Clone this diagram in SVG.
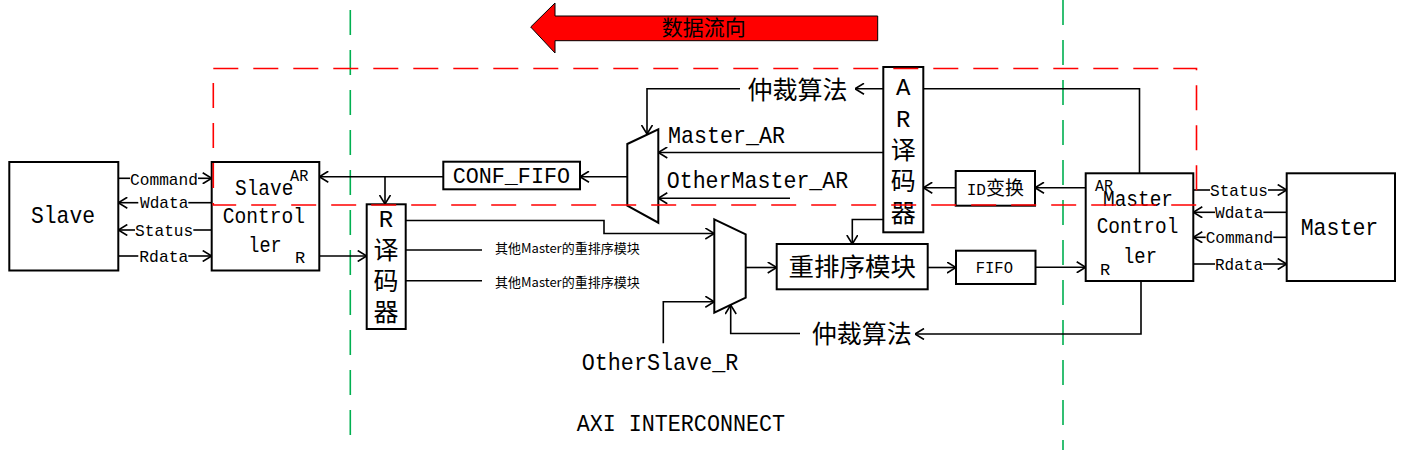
<svg xmlns="http://www.w3.org/2000/svg" width="1405" height="450" viewBox="0 0 1405 450">
<style>
.box{fill:#fff;stroke:#000;stroke-width:2}
.ln{fill:none;stroke:#000;stroke-width:1.6}
.arr{fill:none;stroke:#000;stroke-width:1.6;marker-end:url(#ah)}
.m{font-family:"Liberation Mono","DejaVu Sans Mono",monospace;fill:#000}
.cjk{font-family:"Noto Sans CJK SC","Noto Sans",sans-serif;fill:#000}
.big{font-size:24px}
.mid{font-size:22px}
.sig{font-size:17px}
.sm{font-size:17px}
.grn{stroke:#00B050;stroke-width:1.6;stroke-dasharray:25 15;fill:none}
.red{stroke:#FF0000;stroke-width:1.6;stroke-dasharray:25 15;fill:none}
</style>
<defs>
<marker id="ah" viewBox="0 0 10 12" refX="9.5" refY="6" markerWidth="10" markerHeight="12" markerUnits="userSpaceOnUse" orient="auto">
<path d="M0.5,0.5 L9.5,6 L0.5,11.5" fill="none" stroke="#000" stroke-width="1.6"/>
</marker>
</defs>
<rect width="1405" height="450" fill="#fff"/>

<g id="boundaries">
<line class="grn" x1="350.3" y1="10" x2="350.3" y2="450"/>
<line class="grn" x1="1063" y1="0" x2="1063" y2="450"/>
</g>

<g id="dataflow">
<polygon points="530.7,27 555,3 555,16 877.7,16 877.7,40.7 555,40.7 555,53" fill="#FF0000" stroke="#000" stroke-width="1"/>
<text class="cjk" x="703.7" y="34.7" font-size="21" text-anchor="middle">数据流向</text>
</g>

<g id="connectors">
<!-- left signals -->
<line class="ln" x1="118.3" y1="178.3" x2="130" y2="178.3"/>
<line class="arr" x1="198" y1="178.3" x2="211.7" y2="178.3"/>
<line class="arr" x1="138.3" y1="202.7" x2="118.3" y2="202.7"/>
<line class="ln" x1="188.3" y1="202.7" x2="211.7" y2="202.7"/>
<line class="arr" x1="135" y1="230" x2="118.3" y2="230"/>
<line class="ln" x1="193.3" y1="230" x2="211.7" y2="230"/>
<line class="ln" x1="118.3" y1="256" x2="138.3" y2="256"/>
<line class="arr" x1="188.3" y1="256" x2="211.7" y2="256"/>
<!-- right signals -->
<line class="ln" x1="1193.3" y1="190" x2="1210" y2="190"/>
<line class="arr" x1="1268" y1="190" x2="1286.7" y2="190"/>
<line class="ln" x1="1286.7" y1="212.3" x2="1263.3" y2="212.3"/>
<line class="arr" x1="1215" y1="212.3" x2="1193.3" y2="212.3"/>
<line class="ln" x1="1286.7" y1="237.3" x2="1273.3" y2="237.3"/>
<line class="arr" x1="1205.7" y1="237.3" x2="1193.3" y2="237.3"/>
<line class="ln" x1="1193.3" y1="264" x2="1215" y2="264"/>
<line class="arr" x1="1263" y1="264" x2="1286.7" y2="264"/>
<!-- AR path -->
<line class="arr" x1="443.3" y1="176.7" x2="319.3" y2="176.7"/>
<line class="arr" x1="385" y1="176.7" x2="385" y2="204"/>
<line class="arr" x1="627.3" y1="176.7" x2="580" y2="176.7"/>
<line class="arr" x1="883.3" y1="152.5" x2="658.3" y2="152.5"/>
<line class="arr" x1="790" y1="198.3" x2="658.3" y2="198.3"/>
<path class="arr" d="M1139.5,173.3 V88.8 H855"/>
<path class="arr" d="M740,88.8 H647 V134"/>
<line class="arr" x1="1085.7" y1="187.7" x2="1035" y2="187.7"/>
<line class="arr" x1="955.7" y1="187.7" x2="923.3" y2="187.7"/>
<path class="arr" d="M883.3,219.5 H852.3 V244"/>
<!-- R path -->
<line class="arr" x1="319.3" y1="256" x2="366.7" y2="256"/>
<path class="arr" d="M405.7,220.5 H604 V233.5 H714.3"/>
<line class="ln" x1="405.7" y1="250" x2="482" y2="250"/>
<line class="ln" x1="405.7" y1="280.7" x2="482" y2="280.7"/>
<path class="arr" d="M663.3,343.3 V301.7 H714.3"/>
<line class="arr" x1="745.7" y1="267.5" x2="776.7" y2="267.5"/>
<line class="arr" x1="927.7" y1="267.5" x2="956" y2="267.5"/>
<line class="arr" x1="1035.5" y1="267.3" x2="1085.7" y2="267.3"/>
<path class="arr" d="M1141,281 V334 H915"/>
<path class="arr" d="M800,333.5 H730.7 V305"/>
</g>

<g id="slave">
<rect class="box" x="9.3" y="162" width="109" height="108.5"/>
<text class="m big" x="31" y="223" textLength="64" lengthAdjust="spacingAndGlyphs">Slave</text>
<text class="m sig" x="130" y="184.5" textLength="68" lengthAdjust="spacingAndGlyphs">Command</text>
<text class="m sig" x="140" y="208" textLength="48.3" lengthAdjust="spacingAndGlyphs">Wdata</text>
<text class="m sig" x="135" y="236" textLength="58.3" lengthAdjust="spacingAndGlyphs">Status</text>
<text class="m sig" x="139.3" y="261.5" textLength="49" lengthAdjust="spacingAndGlyphs">Rdata</text>
</g>

<g id="slave-controller">
<rect class="box" x="211.7" y="162" width="107.6" height="108.5"/>
<text class="m mid" x="235" y="195" textLength="58.3" lengthAdjust="spacingAndGlyphs">Slave</text>
<text class="m sm" x="290" y="180.7" textLength="18.3" lengthAdjust="spacingAndGlyphs">AR</text>
<text class="m mid" x="222.7" y="223" textLength="82.3" lengthAdjust="spacingAndGlyphs">Control</text>
<text class="m mid" x="248.3" y="251.7" textLength="33.4" lengthAdjust="spacingAndGlyphs">ler</text>
<text class="m sm" x="295" y="262.7">R</text>
</g>

<g id="r-decoder">
<rect class="box" x="366.7" y="204.3" width="39" height="124.7"/>
<text class="m big" x="386" y="226.5" text-anchor="middle">R</text>
<text class="cjk" x="386" y="258.7" font-size="25" text-anchor="middle">译</text>
<text class="cjk" x="386" y="290.3" font-size="25" text-anchor="middle">码</text>
<text class="cjk" x="386" y="321.2" font-size="25" text-anchor="middle">器</text>
</g>

<g id="other-reorder">
<text class="cjk" x="495" y="253.3" font-size="13">其他Master的重排序模块</text>
<text class="cjk" x="495" y="286.6" font-size="13">其他Master的重排序模块</text>
</g>

<g id="conf-fifo">
<rect class="box" x="443.3" y="161.7" width="136.7" height="27.6"/>
<text class="m mid" x="452.7" y="182.7" textLength="117.3" lengthAdjust="spacingAndGlyphs">CONF_FIFO</text>
</g>

<g id="ar-mux">
<polygon class="box" points="627.3,144 658.3,129.3 658.3,222.7 627.3,205.7"/>
<text class="m big" x="668" y="143.3" textLength="117" lengthAdjust="spacingAndGlyphs">Master_AR</text>
<text class="m big" x="666.7" y="188.3" textLength="181.6" lengthAdjust="spacingAndGlyphs">OtherMaster_AR</text>
</g>

<g id="arb-top">
<text class="cjk" x="797.5" y="98.8" font-size="25" text-anchor="middle">仲裁算法</text>
</g>

<g id="ar-decoder">
<rect class="box" x="883.3" y="67" width="40" height="165.3"/>
<text class="m big" x="903.3" y="95" text-anchor="middle">A</text>
<text class="m big" x="903.3" y="127" text-anchor="middle">R</text>
<text class="cjk" x="903.3" y="158.5" font-size="25" text-anchor="middle">译</text>
<text class="cjk" x="903.3" y="189.5" font-size="25" text-anchor="middle">码</text>
<text class="cjk" x="903.3" y="221.5" font-size="25" text-anchor="middle">器</text>
</g>

<g id="id-convert">
<rect class="box" x="955.7" y="171" width="79.3" height="34.7"/>
<text x="995.3" y="195" text-anchor="middle"><tspan class="m" font-size="16">ID</tspan><tspan class="cjk" font-size="19">变换</tspan></text>
</g>

<g id="r-mux">
<polygon class="box" points="714.3,219.3 745.7,234.3 745.7,297.7 714.3,312.7"/>
<text class="m big" x="581.7" y="369.5" textLength="156.6" lengthAdjust="spacingAndGlyphs">OtherSlave_R</text>
</g>

<g id="reorder">
<rect class="box" x="776.7" y="244" width="151" height="45.3"/>
<text class="cjk" x="852.2" y="276" font-size="25.5" text-anchor="middle">重排序模块</text>
</g>

<g id="fifo">
<rect class="box" x="956" y="250.7" width="79.5" height="33.3"/>
<text class="m" font-size="17" x="975.7" y="273" textLength="37.3" lengthAdjust="spacingAndGlyphs">FIFO</text>
</g>

<g id="arb-bottom">
<text class="cjk" x="861.7" y="342.8" font-size="25" text-anchor="middle">仲裁算法</text>
</g>

<g id="master-controller">
<rect class="box" x="1085.7" y="173.3" width="107.6" height="107.7"/>
<text class="m sm" x="1095" y="190.7" textLength="18" lengthAdjust="spacingAndGlyphs">AR</text>
<text class="m mid" x="1103" y="205.5" textLength="70" lengthAdjust="spacingAndGlyphs">Master</text>
<text class="m mid" x="1096.7" y="233.3" textLength="81.6" lengthAdjust="spacingAndGlyphs">Control</text>
<text class="m mid" x="1123" y="262.7" textLength="34" lengthAdjust="spacingAndGlyphs">ler</text>
<text class="m sm" x="1100" y="275">R</text>
</g>

<g id="master">
<rect class="box" x="1286.7" y="173.3" width="108.3" height="107.7"/>
<text class="m big" x="1300.7" y="235" textLength="77.6" lengthAdjust="spacingAndGlyphs">Master</text>
<text class="m sig" x="1210" y="196" textLength="58" lengthAdjust="spacingAndGlyphs">Status</text>
<text class="m sig" x="1215" y="218" textLength="48.3" lengthAdjust="spacingAndGlyphs">Wdata</text>
<text class="m sig" x="1205.7" y="243" textLength="67.6" lengthAdjust="spacingAndGlyphs">Command</text>
<text class="m sig" x="1215" y="270" textLength="48" lengthAdjust="spacingAndGlyphs">Rdata</text>
</g>

<g id="interconnect">
<text class="m big" x="576.7" y="431" textLength="208.3" lengthAdjust="spacingAndGlyphs">AXI INTERCONNECT</text>
<rect class="red" x="213.3" y="68.5" width="983.2" height="136.5"/>
</g>
</svg>
